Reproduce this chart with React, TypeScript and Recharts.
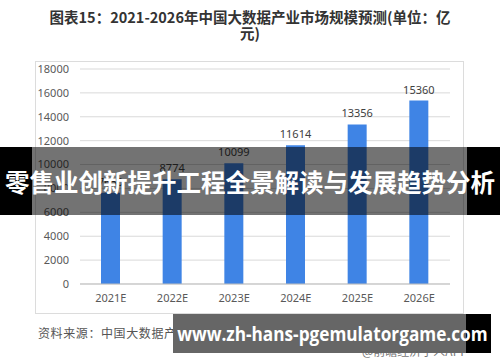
import React from "react";
import { BarChart, Bar, XAxis, YAxis, CartesianGrid, LabelList } from "recharts";

const categories = ["2021E", "2022E", "2023E", "2024E", "2025E", "2026E"];
const values = [7630, 8774, 10099, 11614, 13356, 15360];
const yTicks = [0, 2000, 4000, 6000, 8000, 10000, 12000, 14000, 16000, 18000];

const data = categories.map((c, i) => ({ name: c, value: values[i] }));

const cjk = '"Noto Sans CJK SC", "Noto Sans", sans-serif';

export default function App() {
  return (
    <div style={{ position: "absolute", left: 0, top: 0, width: 500, height: 362, background: "#fff", overflow: "hidden", fontFamily: cjk }}>
      <div style={{ position: "absolute", left: 46, top: 9, width: 408, textAlign: "center", fontSize: 14.5, fontWeight: 700, color: "#333", lineHeight: "16px" }}>
        图表15：2021-2026年中国大数据产业市场规模预测(单位：亿元)
      </div>
      <div style={{ position: "absolute", left: 35, top: 61, width: 427, height: 251, border: "1px solid #dcdcdc" }} />
      <div style={{ position: "absolute", left: 0, top: 0 }}>
        <BarChart width={500} height={362} data={data} margin={{ top: 69, right: 50, left: 35, bottom: 58 }}>
          <CartesianGrid vertical={false} stroke="#d9d9d9" />
          <XAxis dataKey="name" axisLine={{ stroke: "#bfbfbf" }} tickLine={false} tickSize={0} tickMargin={10} height={20}
            tick={{ fontSize: 11, fill: "#595959", fontFamily: '"Noto Sans", sans-serif' }} />
          <YAxis domain={[0, 18000]} ticks={yTicks} axisLine={false} tickLine={false} tickSize={0} tickMargin={11} width={45}
            tick={{ fontSize: 11, fill: "#595959", fontFamily: '"Noto Sans", sans-serif' }} />
          <Bar dataKey="value" fill="#3f84e5" barSize={19} isAnimationActive={false}>
            <LabelList dataKey="value" position="top" offset={7} style={{ fontSize: 11, fill: "#404040", fontFamily: '"Noto Sans", sans-serif' }} />
          </Bar>
        </BarChart>
      </div>
      <div style={{ position: "absolute", left: 38, top: 324, fontSize: 12, letterSpacing: 0.6, color: "#555", whiteSpace: "nowrap" }}>
        资料来源：中国大数据产业联盟 赛迪顾问 前瞻产业研究院整理
      </div>
      <div style={{ position: "absolute", left: 362, top: 342, fontSize: 12, color: "#777", whiteSpace: "nowrap" }}>
        @前瞻经济学人APP
      </div>
      {/* middle banner */}
      <div style={{ position: "absolute", left: 0, top: 147, width: 32, height: 68, background: "#000" }} />
      <div style={{ position: "absolute", left: 467, top: 147, width: 33, height: 68, background: "#000" }} />
      <div style={{ position: "absolute", left: 32, top: 147, width: 435, height: 68, background: "rgba(0,0,0,0.55)" }} />
      <div style={{ position: "absolute", left: 0, top: 147, width: 500, height: 68, display: "flex", alignItems: "center", justifyContent: "center", color: "#fff", fontSize: 24.5, fontWeight: 700, whiteSpace: "nowrap" }}>
        零售业创新提升工程全景解读与发展趋势分析
      </div>
      {/* bottom banner */}
      <div style={{ position: "absolute", left: 466, top: 314, width: 25, height: 39, background: "#000" }} />
      <div style={{ position: "absolute", left: 173, top: 314, width: 293, height: 39, background: "#666" }} />
      <div style={{ position: "absolute", left: 173, top: 314, width: 318, height: 39, display: "flex", alignItems: "center", justifyContent: "center", color: "#fff", fontSize: 20, fontWeight: 700, whiteSpace: "nowrap", fontFamily: '"Open Sans", "Noto Sans", sans-serif' }}>
        <span style={{ display: "inline-block", transform: "scaleX(0.86)" }}>www.zh-hans-pgemulatorgame.com</span>
      </div>
    </div>
  );
}
